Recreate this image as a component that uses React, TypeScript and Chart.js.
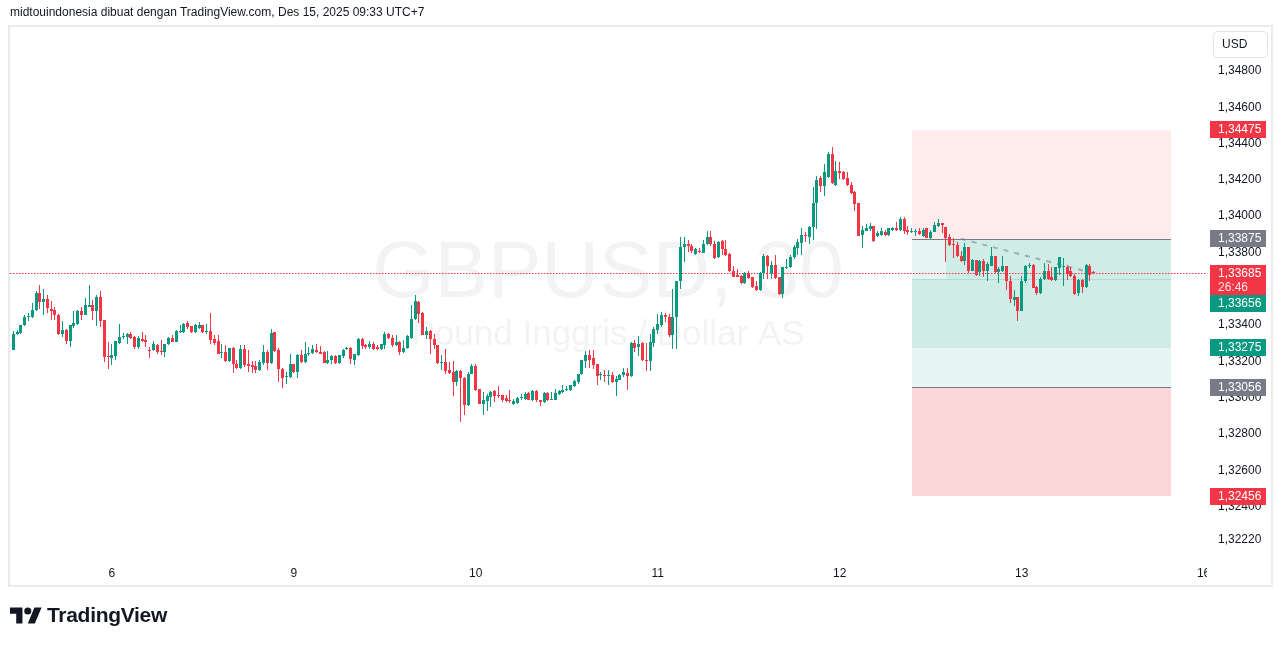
import React, { useEffect, useRef } from 'react';
import { Chart, registerables } from 'chart.js';

Chart.register(...registerables);

const FONT = '"Liberation Sans", Arial, sans-serif';
const UP = '#089981';
const DOWN = '#f23645';

const headerText = 'midtouindonesia dibuat dengan TradingView.com, Des 15, 2025 09:33 UTC+7';
const symbolTitle = 'GBPUSD, 30';
const symbolDesc = 'Pound Inggris / Dollar AS';
const currencyLabel = 'USD';
const countdown = '26:46';

// 30-minute candles, index 0 = first visible bar
const opens = [
  1.33264,1.33352,1.33355,1.33398,1.33443,1.33443,1.33484,1.33575,1.33526,1.33544,
  1.33489,1.33484,1.33458,1.33348,1.33374,1.33311,1.33392,1.33403,1.33480,1.33456,
  1.33502,1.33508,1.33476,1.33557,1.33425,1.33227,1.33220,1.33229,1.33300,1.33333,
  1.33333,1.33352,1.33333,1.33278,1.33324,1.33315,1.33260,1.33264,1.33288,1.33255,
  1.33251,1.33293,1.33330,1.33306,1.33361,1.33361,1.33410,1.33392,1.33361,1.33385,
  1.33398,1.33361,1.33365,1.33324,1.33310,1.33247,1.33251,1.33201,1.33273,1.33183,
  1.33165,1.33269,1.33183,1.33178,1.33174,1.33150,1.33190,1.33251,1.33190,1.33361,
  1.33260,1.33156,1.33113,1.33113,1.33183,1.33141,1.33233,1.33196,1.33238,1.33245,
  1.33260,1.33251,1.33251,1.33190,1.33205,1.33227,1.33190,1.33227,1.33269,1.33273,
  1.33205,1.33233,1.33324,1.33288,1.33278,1.33293,1.33278,1.33269,1.33288,1.33348,
  1.33330,1.33288,1.33306,1.33251,1.33275,1.33328,1.33434,1.33526,1.33465,1.33343,
  1.33365,1.33321,1.33288,1.33192,1.33196,1.33150,1.33141,1.33086,1.33146,1.33110,
  1.32958,1.33132,1.33172,1.33046,1.32963,1.32981,1.33003,1.33036,1.33013,1.33013,
  1.33000,1.32985,1.32963,1.32970,1.32998,1.32994,1.33025,1.32989,1.33035,1.32985,
  1.32976,1.33025,1.32989,1.32989,1.33018,1.33031,1.33042,1.33040,1.33062,1.33086,
  1.33128,1.33201,1.33233,1.33218,1.33183,1.33123,1.33123,1.33119,1.33126,1.33086,
  1.33099,1.33123,1.33135,1.33117,1.33300,1.33278,1.33300,1.33209,1.33201,1.33300,
  1.33370,1.33398,1.33453,1.33447,1.33343,1.33447,1.33640,1.33828,1.33847,1.33837,
  1.33792,1.33806,1.33797,1.33847,1.33883,1.33847,1.33773,1.33865,1.33819,1.33792,
  1.33700,1.33676,1.33672,1.33630,1.33687,1.33663,1.33617,1.33595,1.33687,1.33782,
  1.33687,1.33731,1.33663,1.33572,1.33713,1.33718,1.33773,1.33823,1.33852,1.33896,
  1.33883,1.33942,1.34070,1.34208,1.34167,1.34213,1.34345,1.34173,1.34250,1.34241,
  1.34208,1.34173,1.34134,1.34070,1.33898,1.33920,1.33929,1.33947,1.33892,1.33898,
  1.33915,1.33898,1.33924,1.33935,1.33924,1.33984,1.33924,1.33911,1.33911,1.33916,
  1.33892,1.33935,1.33880,1.33915,1.33946,1.33960,1.33942,1.33883,1.33847,1.33843,
  1.33779,1.33751,1.33828,1.33700,1.33760,1.33691,1.33751,1.33700,1.33727,1.33782,
  1.33691,1.33696,1.33724,1.33645,1.33540,1.33557,1.33476,1.33640,1.33724,1.33733,
  1.33608,1.33575,1.33652,1.33696,1.33663,1.33650,1.33715,1.33718,1.33718,1.33696,
  1.33672,1.33575,1.33650,1.33608,1.33727,1.33690,
];
const highs = [
  1.33366,1.33370,1.33401,1.33453,1.33465,1.33520,1.33590,1.33618,1.33599,1.33568,
  1.33531,1.33502,1.33462,1.33421,1.33379,1.33398,1.33480,1.33484,1.33502,1.33550,
  1.33618,1.33539,1.33563,1.33590,1.33429,1.33306,1.33293,1.33310,1.33403,1.33355,
  1.33355,1.33361,1.33337,1.33337,1.33361,1.33346,1.33278,1.33311,1.33297,1.33315,
  1.33297,1.33333,1.33343,1.33374,1.33398,1.33410,1.33420,1.33392,1.33403,1.33416,
  1.33401,1.33403,1.33465,1.33343,1.33343,1.33293,1.33288,1.33275,1.33278,1.33205,
  1.33288,1.33288,1.33260,1.33201,1.33201,1.33205,1.33288,1.33260,1.33379,1.33361,
  1.33275,1.33163,1.33141,1.33242,1.33187,1.33238,1.33260,1.33306,1.33278,1.33288,
  1.33293,1.33282,1.33255,1.33255,1.33233,1.33233,1.33236,1.33266,1.33278,1.33278,
  1.33242,1.33328,1.33328,1.33293,1.33311,1.33306,1.33288,1.33297,1.33361,1.33357,
  1.33343,1.33346,1.33310,1.33319,1.33343,1.33508,1.33563,1.33530,1.33471,1.33388,
  1.33370,1.33352,1.33288,1.33233,1.33269,1.33196,1.33200,1.33154,1.33154,1.33113,
  1.33141,1.33187,1.33187,1.33046,1.33031,1.33022,1.33035,1.33040,1.33062,1.33013,
  1.33013,1.33044,1.32994,1.33003,1.33022,1.33031,1.33031,1.33040,1.33040,1.32989,
  1.33031,1.33031,1.33031,1.33049,1.33040,1.33068,1.33062,1.33068,1.33095,1.33132,
  1.33205,1.33255,1.33264,1.33264,1.33183,1.33141,1.33150,1.33154,1.33141,1.33117,
  1.33132,1.33165,1.33165,1.33306,1.33319,1.33337,1.33306,1.33300,1.33352,1.33388,
  1.33462,1.33471,1.33465,1.33462,1.33599,1.33645,1.33887,1.33887,1.33871,1.33844,
  1.33825,1.33823,1.33871,1.33920,1.33920,1.33865,1.33865,1.33871,1.33871,1.33795,
  1.33727,1.33709,1.33676,1.33691,1.33700,1.33667,1.33645,1.33694,1.33792,1.33786,
  1.33755,1.33786,1.33667,1.33718,1.33764,1.33786,1.33841,1.33874,1.33933,1.33911,
  1.33947,1.34158,1.34222,1.34222,1.34287,1.34354,1.34382,1.34305,1.34296,1.34246,
  1.34241,1.34186,1.34140,1.34070,1.33947,1.33957,1.33960,1.33947,1.33920,1.33935,
  1.33924,1.33935,1.33942,1.33966,1.33997,1.33993,1.33947,1.33935,1.33929,1.33935,
  1.33935,1.33935,1.33925,1.33966,1.33984,1.33964,1.33942,1.33902,1.33880,1.33856,
  1.33810,1.33852,1.33832,1.33764,1.33760,1.33760,1.33764,1.33746,1.33832,1.33782,
  1.33718,1.33782,1.33724,1.33672,1.33594,1.33557,1.33669,1.33733,1.33740,1.33737,
  1.33614,1.33667,1.33740,1.33737,1.33722,1.33722,1.33777,1.33770,1.33733,1.33718,
  1.33682,1.33654,1.33654,1.33737,1.33737,1.33700,
];
const lows = [
  1.33260,1.33343,1.33352,1.33394,1.33421,1.33440,1.33480,1.33489,1.33453,1.33465,
  1.33429,1.33425,1.33343,1.33333,1.33297,1.33278,1.33385,1.33398,1.33429,1.33453,
  1.33498,1.33425,1.33392,1.33388,1.33196,1.33159,1.33178,1.33205,1.33293,1.33324,
  1.33293,1.33324,1.33269,1.33269,1.33306,1.33278,1.33220,1.33255,1.33242,1.33233,
  1.33223,1.33288,1.33306,1.33306,1.33355,1.33357,1.33379,1.33355,1.33355,1.33379,
  1.33355,1.33352,1.33293,1.33288,1.33238,1.33220,1.33196,1.33196,1.33135,1.33159,
  1.33159,1.33168,1.33141,1.33135,1.33135,1.33145,1.33178,1.33150,1.33187,1.33251,
  1.33086,1.33055,1.33077,1.33110,1.33137,1.33110,1.33192,1.33190,1.33227,1.33242,
  1.33245,1.33238,1.33190,1.33187,1.33187,1.33187,1.33187,1.33220,1.33260,1.33187,
  1.33178,1.33229,1.33266,1.33266,1.33269,1.33260,1.33260,1.33264,1.33269,1.33324,
  1.33278,1.33282,1.33233,1.33247,1.33269,1.33324,1.33425,1.33410,1.33343,1.33324,
  1.33242,1.33269,1.33187,1.33154,1.33132,1.33128,1.33007,1.33062,1.32866,1.32903,
  1.32952,1.33128,1.33035,1.32963,1.32903,1.32926,1.32948,1.32976,1.33000,1.32976,
  1.32976,1.32970,1.32958,1.32963,1.32989,1.32989,1.32985,1.32981,1.32976,1.32952,
  1.32970,1.32981,1.32985,1.32985,1.33013,1.33027,1.33036,1.33036,1.33058,1.33077,
  1.33123,1.33165,1.33165,1.33159,1.33068,1.33099,1.33086,1.33068,1.33080,1.33007,
  1.33095,1.33113,1.33040,1.33113,1.33251,1.33227,1.33201,1.33146,1.33146,1.33278,
  1.33352,1.33388,1.33416,1.33333,1.33266,1.33266,1.33601,1.33746,1.33801,1.33797,
  1.33786,1.33795,1.33795,1.33841,1.33834,1.33764,1.33768,1.33786,1.33782,1.33694,
  1.33663,1.33663,1.33627,1.33627,1.33654,1.33603,1.33590,1.33590,1.33654,1.33654,
  1.33654,1.33654,1.33568,1.33548,1.33709,1.33713,1.33764,1.33786,1.33786,1.33856,
  1.33847,1.33869,1.33929,1.34131,1.34112,1.34210,1.34177,1.34168,1.34204,1.34199,
  1.34168,1.34122,1.34030,1.33892,1.33823,1.33916,1.33920,1.33856,1.33887,1.33892,
  1.33892,1.33892,1.33920,1.33920,1.33920,1.33902,1.33898,1.33905,1.33892,1.33898,
  1.33887,1.33880,1.33876,1.33911,1.33942,1.33905,1.33746,1.33838,1.33770,1.33773,
  1.33746,1.33733,1.33685,1.33696,1.33672,1.33672,1.33667,1.33641,1.33724,1.33685,
  1.33630,1.33691,1.33594,1.33520,1.33507,1.33421,1.33476,1.33634,1.33713,1.33603,
  1.33566,1.33572,1.33650,1.33649,1.33645,1.33641,1.33676,1.33614,1.33649,1.33667,
  1.33568,1.33559,1.33575,1.33605,1.33640,1.33680,
];
const closes = [
  1.33352,1.33361,1.33398,1.33447,1.33447,1.33484,1.33575,1.33526,1.33544,1.33495,
  1.33476,1.33456,1.33348,1.33374,1.33311,1.33398,1.33410,1.33480,1.33458,1.33508,
  1.33508,1.33476,1.33557,1.33421,1.33223,1.33223,1.33233,1.33310,1.33333,1.33339,
  1.33352,1.33330,1.33278,1.33328,1.33311,1.33306,1.33256,1.33297,1.33251,1.33251,
  1.33293,1.33330,1.33306,1.33365,1.33365,1.33407,1.33388,1.33361,1.33398,1.33401,
  1.33361,1.33365,1.33315,1.33300,1.33242,1.33251,1.33201,1.33273,1.33183,1.33165,
  1.33269,1.33178,1.33174,1.33168,1.33150,1.33196,1.33251,1.33190,1.33355,1.33256,
  1.33156,1.33108,1.33117,1.33183,1.33141,1.33233,1.33196,1.33238,1.33242,1.33266,
  1.33251,1.33242,1.33190,1.33205,1.33227,1.33190,1.33233,1.33260,1.33273,1.33214,
  1.33238,1.33324,1.33282,1.33278,1.33293,1.33269,1.33269,1.33293,1.33348,1.33328,
  1.33288,1.33306,1.33251,1.33275,1.33337,1.33434,1.33530,1.33462,1.33343,1.33365,
  1.33321,1.33288,1.33190,1.33196,1.33146,1.33135,1.33086,1.33146,1.33110,1.32958,
  1.33132,1.33172,1.33040,1.32963,1.32985,1.33007,1.33031,1.33007,1.33007,1.32989,
  1.32981,1.32981,1.32980,1.32998,1.33003,1.33022,1.32989,1.33035,1.32985,1.32976,
  1.33025,1.32985,1.32994,1.33025,1.33035,1.33044,1.33046,1.33068,1.33091,1.33128,
  1.33205,1.33233,1.33209,1.33178,1.33117,1.33126,1.33117,1.33126,1.33086,1.33104,
  1.33123,1.33141,1.33117,1.33300,1.33273,1.33297,1.33205,1.33201,1.33306,1.33379,
  1.33407,1.33453,1.33443,1.33343,1.33447,1.33645,1.33832,1.33847,1.33834,1.33806,
  1.33819,1.33801,1.33847,1.33883,1.33847,1.33768,1.33859,1.33819,1.33786,1.33700,
  1.33667,1.33667,1.33630,1.33687,1.33658,1.33608,1.33595,1.33687,1.33782,1.33727,
  1.33731,1.33658,1.33572,1.33718,1.33722,1.33777,1.33828,1.33856,1.33896,1.33889,
  1.33938,1.34070,1.34199,1.34167,1.34244,1.34345,1.34180,1.34250,1.34235,1.34204,
  1.34171,1.34125,1.34067,1.33892,1.33924,1.33935,1.33947,1.33861,1.33907,1.33916,
  1.33896,1.33933,1.33935,1.33926,1.33984,1.33916,1.33911,1.33915,1.33915,1.33902,
  1.33925,1.33880,1.33915,1.33953,1.33960,1.33949,1.33880,1.33841,1.33843,1.33779,
  1.33751,1.33828,1.33700,1.33760,1.33678,1.33751,1.33700,1.33737,1.33782,1.33691,
  1.33709,1.33724,1.33641,1.33544,1.33557,1.33476,1.33645,1.33727,1.33733,1.33605,
  1.33575,1.33656,1.33696,1.33654,1.33650,1.33718,1.33777,1.33722,1.33682,1.33669,
  1.33572,1.33650,1.33608,1.33733,1.33678,1.33685,
];

// time axis (bar index of each day start) and labels
const xTickIndex = [26, 74, 122, 170, 218, 266, 314];
const xTickLabels = ['6', '9', '10', '11', '12', '13', '16'];
const xMin = -0.87;
const xMax = 314.63;

// price axis
const yTicks = [1.348, 1.346, 1.344, 1.342, 1.34, 1.338, 1.336, 1.334, 1.332, 1.33, 1.328, 1.326, 1.324, 1.3222];
const yMin = 1.32122;
const yMax = 1.35042;

const lastPrice = 1.33685;

// position tools (bar index range and price levels)
const posStart = 237;
const posEnd = 305.4;
const shortEntry = 1.33875;
const shortStop = 1.34475;
const shortTarget = 1.33275;
const shortActiveFrom = 246;
const longEntry = 1.33056;
const longStop = 1.32456;
const longTarget = 1.33656;
const pathFromIndex = 250;
const pathToIndex = 285;

// price scale tags
const tagPrices = [1.34475, 1.33875, 1.33656, 1.33275, 1.33056, 1.32456];
const tagColors = ['#f23645', '#787b86', '#089981', '#089981', '#787b86', '#f23645'];

const fmt = (v: number) => Number(v).toFixed(5).replace('.', ',');

const snapPlugin = {
  id: 'snap',
  afterDatasetsUpdate(chart: any) {
    for (let d = 0; d < chart.data.datasets.length; d++) {
      const meta = chart.getDatasetMeta(d);
      for (const el of meta.data as any[]) {
        el.x = Math.round(el.x - 0.5) + 0.5;
        let top = Math.round(Math.min(el.y, el.base));
        let bot = Math.round(Math.max(el.y, el.base));
        if (bot - top < 1) bot = top + 1;
        el.y = top;
        el.base = bot;
      }
    }
  },
};

const overlayPlugin = {
  id: 'overlay',
  beforeDatasetsDraw(chart: any) {
    const { ctx, chartArea: a } = chart;
    const xs = chart.scales.x;
    const ys = chart.scales.y;
    const px = (v: number) => xs.getPixelForValue(v);
    const py = (v: number) => ys.getPixelForValue(v);
    ctx.save();
    ctx.beginPath();
    ctx.rect(a.left, a.top, a.right - a.left, a.bottom - a.top);
    ctx.clip();

    // watermark
    const cx = (a.left + a.right) / 2;
    ctx.fillStyle = 'rgba(19,23,34,0.05)';
    ctx.textAlign = 'center';
    ctx.textBaseline = 'alphabetic';
    ctx.font = `80px ${FONT}`;
    ctx.fillText(symbolTitle, cx, a.top + 270);
    ctx.font = `35px ${FONT}`;
    ctx.fillText(symbolDesc, cx, a.top + 318);

    const box = (x0: number, x1: number, p0: number, p1: number, c: string) => {
      const X0 = Math.round(px(x0));
      const X1 = Math.round(px(x1));
      const Y0 = Math.round(py(Math.max(p0, p1)));
      const Y1 = Math.round(py(Math.min(p0, p1)));
      ctx.fillStyle = c;
      ctx.fillRect(X0, Y0, X1 - X0, Y1 - Y0);
    };
    const green = 'rgba(8,153,129,0.1)';
    box(posStart, posEnd, shortEntry, shortStop, 'rgba(242,54,69,0.1)');
    box(posStart, posEnd, shortEntry, shortTarget, green);
    box(posStart, posEnd, longEntry, longTarget, green);
    box(shortActiveFrom, posEnd, shortEntry, longTarget, green);
    box(posStart, posEnd, longEntry, longStop, 'rgba(242,54,69,0.2)');

    const hline = (p: number, c: string) => {
      const y = Math.round(py(p)) + 0.5;
      ctx.strokeStyle = c;
      ctx.lineWidth = 1;
      ctx.setLineDash([]);
      ctx.beginPath();
      ctx.moveTo(Math.round(px(posStart)), y);
      ctx.lineTo(Math.round(px(posEnd)), y);
      ctx.stroke();
    };
    hline(longTarget, 'rgba(8,153,129,0.18)');
    hline(shortEntry, '#787b86');
    hline(longEntry, '#787b86');

    // dashed path from entry to current bar
    ctx.strokeStyle = 'rgba(120,123,134,0.55)';
    ctx.lineWidth = 2;
    ctx.setLineDash([5, 6]);
    ctx.beginPath();
    ctx.moveTo(px(pathFromIndex), py(shortEntry));
    ctx.lineTo(px(pathToIndex), py(lastPrice));
    ctx.stroke();

    // current price dotted line
    const ly = Math.round(py(lastPrice)) + 0.5;
    ctx.strokeStyle = '#f23645';
    ctx.lineWidth = 1;
    ctx.setLineDash([1.5, 1.5]);
    ctx.beginPath();
    ctx.moveTo(a.left, ly);
    ctx.lineTo(a.right, ly);
    ctx.stroke();
    ctx.restore();
  },
  afterDraw(chart: any) {
    const { ctx, chartArea: a } = chart;
    const ys = chart.scales.y;
    const py = (v: number) => ys.getPixelForValue(v);
    ctx.save();
    // clip time labels at the price scale edge
    ctx.fillStyle = '#ffffff';
    ctx.fillRect(a.right + 1, a.bottom + 1, 64, 27);

    // price tags with overlap resolution
    const tags: any[] = [{ p: lastPrice, c: '#f23645', h: 30, cur: true }];
    tagPrices.forEach((p, i) => tags.push({ p, c: tagColors[i], h: 17, cur: false }));
    tags.sort((m, n) => n.p - m.p);
    let prevBottom = -1e9;
    const bx = a.right + 4;
    const bw = 56;
    for (const t of tags) {
      let top = py(t.p) - 8.5;
      if (top < prevBottom) top = prevBottom;
      prevBottom = top + t.h;
      ctx.fillStyle = t.c;
      ctx.fillRect(bx, Math.round(top), bw, t.h);
      ctx.fillStyle = '#ffffff';
      ctx.textAlign = 'left';
      ctx.textBaseline = 'middle';
      ctx.font = `12px ${FONT}`;
      ctx.fillText(fmt(t.p), a.right + 12, Math.round(top) + 9);
      if (t.cur) {
        ctx.fillStyle = 'rgba(255,255,255,0.85)';
        ctx.fillText(countdown, a.right + 12, Math.round(top) + 23);
      }
    }

    // currency button
    ctx.strokeStyle = '#e0e3eb';
    ctx.lineWidth = 1;
    ctx.beginPath();
    (ctx as any).roundRect(a.right + 7.5, 31.5, 54, 26, 4);
    ctx.stroke();
    ctx.fillStyle = '#131722';
    ctx.textAlign = 'left';
    ctx.textBaseline = 'middle';
    ctx.font = `12px ${FONT}`;
    ctx.fillText(currencyLabel, a.right + 16, 45);

    // outer frame
    ctx.strokeStyle = '#ebebeb';
    ctx.lineWidth = 2;
    ctx.strokeRect(9, 26, 1263, 560);
    ctx.restore();
  },
};

export default function App() {
  const ref = useRef<HTMLCanvasElement>(null);
  useEffect(() => {
    const canvas = ref.current as HTMLCanvasElement;
    const idx = opens.map((_, i) => i);
    const colors = idx.map((i) => (closes[i] >= opens[i] ? UP : DOWN));
    const chart = new Chart(canvas, {
      type: 'bar',
      data: {
        datasets: [
          {
            label: 'wick',
            data: idx.map((i) => ({ x: i, y: [lows[i], highs[i]] })) as any,
            backgroundColor: colors,
            barThickness: 1,
            grouped: false,
            borderWidth: 0,
            inflateAmount: 0,
            order: 2,
          } as any,
          {
            label: 'body',
            data: idx.map((i) => ({ x: i, y: [opens[i], closes[i]] })) as any,
            backgroundColor: colors,
            barThickness: 3,
            grouped: false,
            borderWidth: 0,
            inflateAmount: 0,
            minBarLength: 1,
            order: 1,
          } as any,
        ],
      },
      options: {
        animation: false,
        responsive: false,
        maintainAspectRatio: false,
        devicePixelRatio: 1,
        layout: { padding: { left: 10, top: 27, right: 0, bottom: 60 } },
        plugins: { legend: { display: false }, tooltip: { enabled: false } },
        scales: {
          x: {
            type: 'linear',
            min: xMin,
            max: xMax,
            offset: false,
            grid: { display: false, drawTicks: false, offset: false },
            border: { display: false },
            afterBuildTicks: (s: any) => {
              s.ticks = xTickIndex.map((v) => ({ value: v }));
            },
            afterFit: (s: any) => {
              s.height = 29;
            },
            ticks: {
              autoSkip: false,
              maxRotation: 0,
              padding: 9,
              color: '#131722',
              font: { family: FONT, size: 12 },
              callback: (v: any) => {
                const k = xTickIndex.indexOf(Number(v));
                return k >= 0 ? xTickLabels[k] : '';
              },
            },
          },
          y: {
            position: 'right',
            min: yMin,
            max: yMax,
            grid: { display: false, drawTicks: false },
            border: { display: false },
            afterBuildTicks: (s: any) => {
              s.ticks = yTicks.map((v) => ({ value: v }));
            },
            afterFit: (s: any) => {
              s.width = 75;
            },
            ticks: {
              padding: 12,
              color: '#131722',
              font: { family: FONT, size: 12 },
              callback: (v: any) => fmt(Number(v)),
            },
          },
        } as any,
      },
      plugins: [snapPlugin, overlayPlugin],
    });
    return () => chart.destroy();
  }, []);

  return (
    <div style={{ position: 'fixed', left: 0, top: 0, width: 1281, height: 646, background: '#ffffff', overflow: 'hidden' }}>
      <canvas ref={ref} width={1281} height={646} style={{ position: 'absolute', left: 0, top: 0, width: 1281, height: 646 }} />
      <div style={{ position: 'absolute', left: 10, top: 5, font: `12px ${FONT}`, lineHeight: '14px', color: '#131722', whiteSpace: 'nowrap' }}>
        {headerText}
      </div>
      <div style={{ position: 'absolute', left: 10, top: 603, height: 24, display: 'flex', alignItems: 'center' }}>
        <svg width="32" height="17" viewBox="0 4 36 18" style={{ display: 'block' }}>
          <path d="M14 22H7V11H0V4h14v18z" fill="#131722" />
          <circle cx="20" cy="8" r="4" fill="#131722" />
          <path d="M28 22h-8l7.5-18h8L28 22z" fill="#131722" />
        </svg>
        <span style={{ marginLeft: 5, font: `bold 21px ${FONT}`, color: '#131722', letterSpacing: '-0.3px' }}>TradingView</span>
      </div>
    </div>
  );
}
